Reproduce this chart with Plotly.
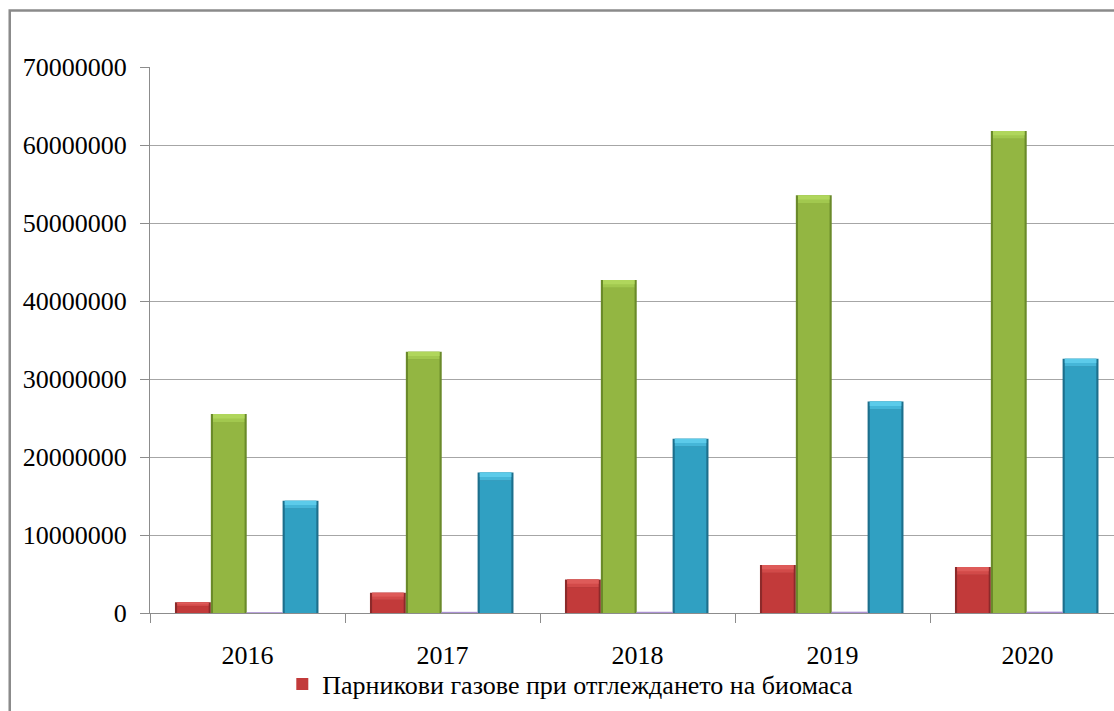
import plotly.graph_objects as go

# ---- data -------------------------------------------------------------
years = ["2016", "2017", "2018", "2019", "2020"]
greenhouse_gas = [1370000, 2600000, 4300000, 6150000, 5900000]
green_series = [25500000, 33500000, 42700000, 53550000, 61800000]
violet_series = [20000, 90000, 100000, 110000, 120000]
blue_series = [14400000, 18000000, 22350000, 27100000, 32600000]
legend_label = "Парникови газове при отглеждането на биомаса"
y_tick_values = [0, 10000000, 20000000, 30000000, 40000000, 50000000, 60000000, 70000000]
y_tick_text = [str(v) for v in y_tick_values]

# ---- styling ----------------------------------------------------------
FONT = "Liberation Serif"
FONT_SIZE = 26
BAR_W = 0.184          # bar width in category units
EDGE = 0.011           # darker side edge of each bar
CAP_FRAC = 0.35
CAP_MAX = 1000000      # height of the lighter bevelled top

series = [
    # values, offset, (edge, body, cap, cap-inner), legend?
    (greenhouse_gas, -0.372, ("#8c2a2a", "#c23a3a", "#d24a49", "#de5b59"), True),
    (green_series, -0.188, ("#6a8a2a", "#93b642", "#a2c84f", "#b0d65c"), False),
    (blue_series, 0.180, ("#1d6f8c", "#30a0c2", "#45b6d8", "#5ccbea"), False),
]

fig = go.Figure()

for vals, off, (c_edge, c_body, c_cap, c_cap2), in_legend in series:
    caps = [min(CAP_MAX, v * CAP_FRAC) for v in vals]
    # dark outer silhouette
    fig.add_trace(go.Bar(
        x=years, y=vals, width=BAR_W, offset=off,
        marker=dict(color=c_edge, line=dict(width=0)),
        showlegend=False, hoverinfo="skip",
    ))
    # main body
    fig.add_trace(go.Bar(
        x=years, y=[v - c for v, c in zip(vals, caps)],
        width=BAR_W - 2 * EDGE, offset=off + EDGE,
        marker=dict(color=c_body, line=dict(width=0)),
        name=legend_label, showlegend=in_legend,
    ))
    # lighter bevelled top, stepped to suggest the chamfer
    fig.add_trace(go.Bar(
        x=years, y=caps, base=[v - c for v, c in zip(vals, caps)],
        width=BAR_W - 2 * EDGE, offset=off + EDGE,
        marker=dict(color=c_cap, line=dict(width=0)),
        showlegend=False, hoverinfo="skip",
    ))
    fig.add_trace(go.Bar(
        x=years, y=[c * 0.55 for c in caps], base=[v - c * 0.55 for v, c in zip(vals, caps)],
        width=BAR_W - 2 * EDGE, offset=off + EDGE,
        marker=dict(color=c_cap2, line=dict(width=0)),
        showlegend=False, hoverinfo="skip",
    ))

# near-zero violet series, visible only as a thin strip on the baseline
fig.add_trace(go.Bar(
    x=years, y=violet_series, width=BAR_W, offset=-0.004,
    marker=dict(color="#a68ad0", line=dict(color="#a68ad0", width=0.8)),
    showlegend=False,
))

# outer chart frame (left and top edges fall inside the view)
fig.add_shape(
    type="rect", xref="paper", yref="paper",
    x0=-0.1455, x1=1.2, y0=-0.3, y1=1.1035,
    line=dict(color="#8a8a8a", width=2.5), fillcolor="rgba(0,0,0,0)",
    layer="below",
)

fig.update_layout(
    width=1114, height=711,
    margin=dict(l=150, r=0, t=67, b=98),
    paper_bgcolor="white", plot_bgcolor="white",
    barmode="overlay",
    font=dict(family=FONT, size=FONT_SIZE, color="black"),
    showlegend=True,
    legend=dict(
        orientation="h", x=0.436, xanchor="center", y=-0.13, yanchor="middle",
        font=dict(family=FONT, size=FONT_SIZE, color="black"),
        bgcolor="rgba(0,0,0,0)", itemsizing="constant",
        itemwidth=30, tracegroupgap=0,
    ),
    xaxis=dict(
        type="category", range=[-0.5, 4.4436],
        showline=True, linecolor="#8c8c8c", linewidth=1,
        ticks="outside", tickson="boundaries", ticklen=9, tickcolor="#8c8c8c",
        showgrid=False, ticklabelstandoff=19,
        tickfont=dict(family=FONT, size=FONT_SIZE, color="black"),
    ),
    yaxis=dict(
        range=[0, 70000000],
        tickvals=y_tick_values, ticktext=y_tick_text,
        showline=True, linecolor="#8c8c8c", linewidth=1,
        ticks="outside", ticklen=9, tickcolor="#8c8c8c",
        showgrid=True, gridcolor="#a6a6a6", gridwidth=1,
        zeroline=False, ticklabelstandoff=8,
        tickfont=dict(family=FONT, size=FONT_SIZE, color="black"),
    ),
)

fig.write_html("out.html")
